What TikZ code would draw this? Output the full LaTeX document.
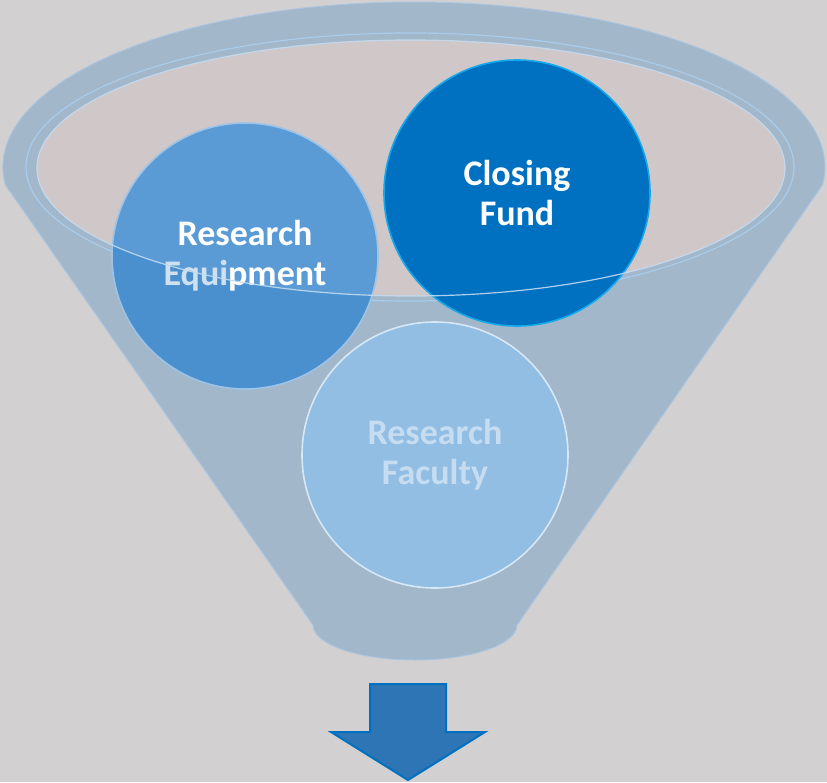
\documentclass[tikz,border=0pt]{standalone}
\usepackage{fontspec}
\setmainfont{Carlito}
\definecolor{bg}{HTML}{D2D0D1}
\definecolor{funnel}{HTML}{A3B7CB}
\definecolor{funneledge}{HTML}{AAC5DF}
\definecolor{opening}{HTML}{D0C7C8}
\definecolor{rimline}{HTML}{A9CCEB}
\definecolor{equipA}{HTML}{5B9BD5}
\definecolor{equipB}{HTML}{4A8FCE}
\definecolor{equipedge}{HTML}{9DC3E6}
\definecolor{closefill}{HTML}{0070C0}
\definecolor{closeedge}{HTML}{14A8EC}
\definecolor{facfill}{HTML}{92BEE4}
\definecolor{facedge}{HTML}{D6E7F5}
\definecolor{factext}{HTML}{C6DCF0}
\definecolor{equitext}{HTML}{CFE1F1}
\definecolor{arrowfill}{HTML}{2E75B6}
\definecolor{arrowedge}{HTML}{0070C0}
\begin{document}
\begin{tikzpicture}[x=1pt,y=-1pt,
  bubble/.style={circle,minimum size=266pt,inner sep=0pt,align=center,
    font=\bfseries\fontsize{36}{40}\selectfont,line width=1.6pt},
  rim/.style={draw=rimline,line width=1.2pt}]
\useasboundingbox (0,0) rectangle (827,782);
\fill[bg] (0,0) rectangle (827,782);
% funnel body
\filldraw[fill=funnel,draw=funneledge,line width=1pt]
  (313,625) -- (5.4,185)
  arc[start angle=173.74,end angle=366.26,x radius=411,y radius=165]
  -- (517,625)
  arc[start angle=0,end angle=180,x radius=102,y radius=35] -- cycle;
% opening
\draw[rim] (410,167) ellipse[x radius=384,y radius=134];
\fill[opening] (411,168) ellipse[x radius=374,y radius=128];
% circles
\fill[equipB] (245,256) circle[radius=133];
\begin{scope}
  \clip (411,168) ellipse[x radius=374,y radius=128];
  \fill[equipA] (245,256) circle[radius=133];
\end{scope}
\node[bubble,draw=equipedge,text=white] (equip) at (245,256)
  {Research\\\textcolor{equitext}{Equi}pment};
\node[bubble,fill=closefill,draw=closeedge,text=white] (close) at (517,193)
  {Closing\\Fund};
\node[bubble,fill=facfill,draw=facedge,text=factext] (fac) at (435,455)
  {Research\\Faculty};
% rim line on top
\draw[draw=rimline!70!white,line width=1.2pt,opacity=0.9]
  (411,168) ellipse[x radius=374,y radius=128];
% arrow
\filldraw[fill=arrowfill,draw=arrowedge,line width=2pt,line join=miter]
  (370,684) -- (446,684) -- (446,732) -- (485,732) -- (408,780)
  -- (331,732) -- (370,732) -- cycle;
\end{tikzpicture}
\end{document}
